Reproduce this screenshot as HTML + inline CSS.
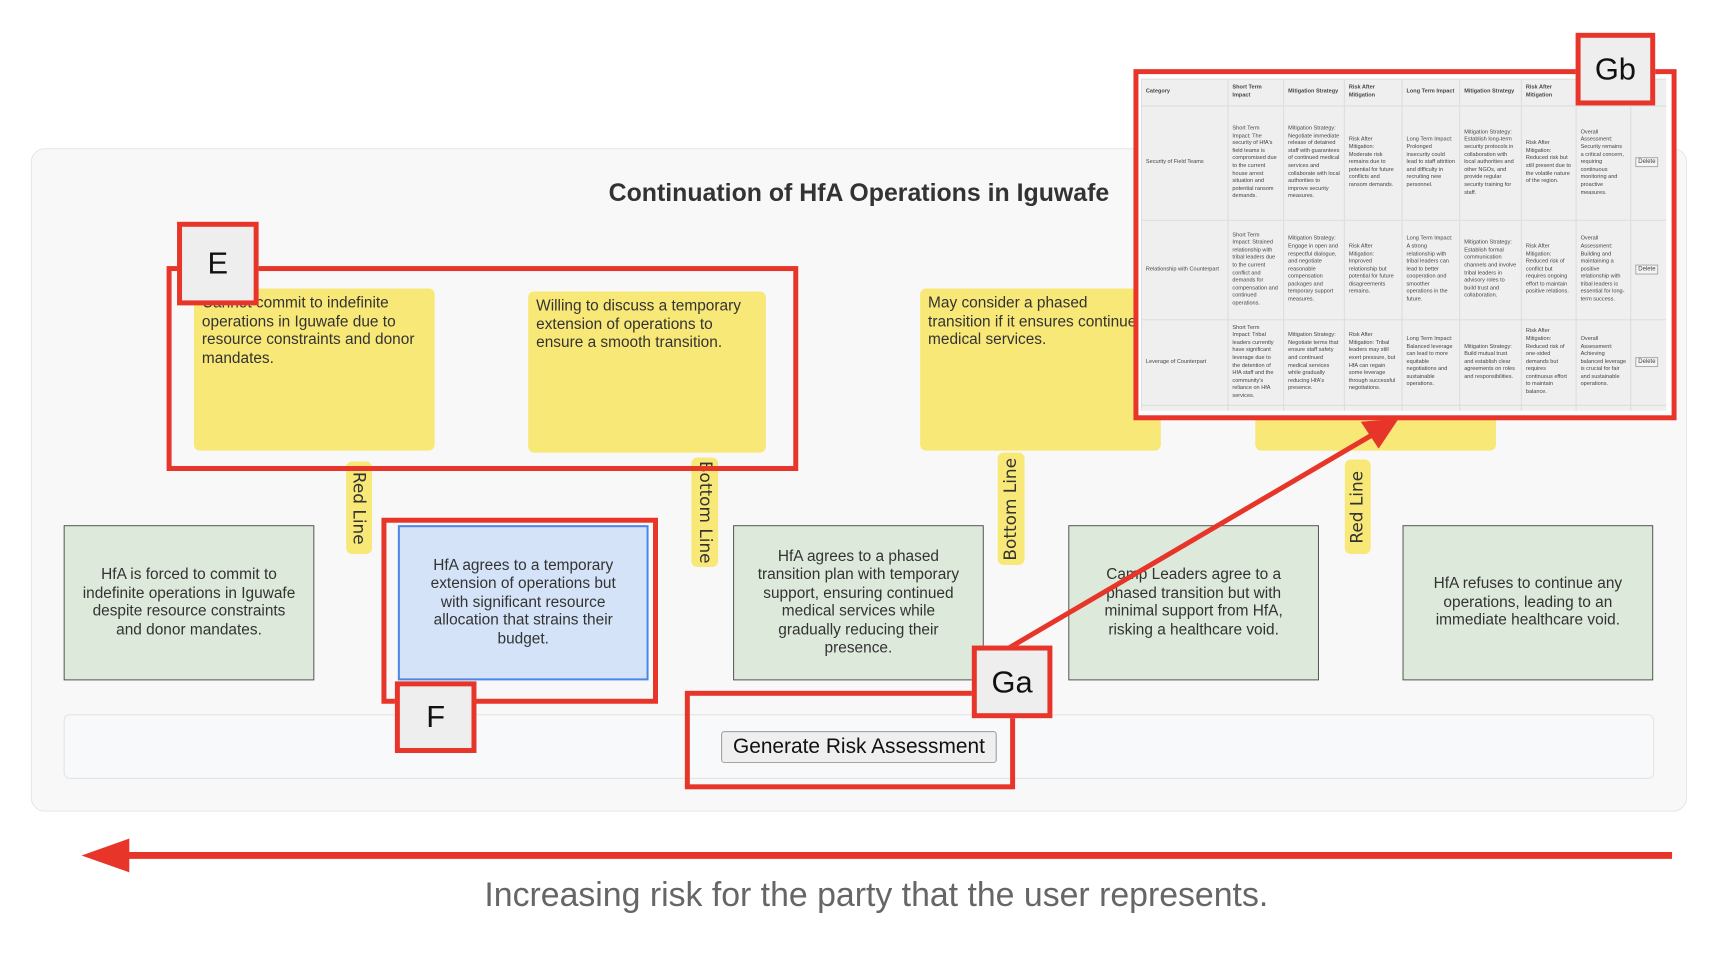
<!DOCTYPE html>
<html><head><meta charset="utf-8"><style>
*{box-sizing:border-box;margin:0;padding:0}
body{width:1716px;height:954px;background:#fff;position:relative;overflow:hidden;font-family:"Liberation Sans",Arial,sans-serif;color:#333}
#w{position:absolute;left:0;top:0;width:1716px;height:954px;transform:scale(0.9947);transform-origin:0 0}
.a{position:absolute}
.panel{left:31px;top:149px;width:1665px;height:667px;background:#f8f8f8;border:1px solid #e6e6e6;border-radius:14px}
.title{left:31px;width:1665px;top:180px;text-align:center;font-weight:bold;font-size:25px;color:#333}
.y{background:#f8e877;border-radius:6px;font-size:15.5px;line-height:18.5px;padding:6px 8px;color:#333}
.tag{background:#f8e877;border-radius:6px;font-family:"DejaVu Sans",sans-serif;font-size:17px;color:#333;display:flex;align-items:center;justify-content:center}
.tag span{white-space:nowrap;display:block}
.g{background:#dde9da;border:1px solid #555;font-size:15.5px;line-height:18.5px;text-align:center;display:flex;align-items:center;justify-content:center;padding:8px 20px}
.bar{left:64px;top:718px;width:1599px;height:65px;background:#f8f9fa;border:1px solid #e2e2e2;border-radius:6px}
.btn{left:725px;top:735px;width:277px;height:32px;background:#efefef;border:1px solid #999;border-radius:3px;font-size:21px;text-align:center;line-height:30px;color:#111}
.cap{left:23px;width:1716px;top:881px;text-align:center;font-size:34px;color:#666}
.lab{background:#eee;border:5px solid #e8352a;font-size:31px;color:#111;display:flex;align-items:center;justify-content:center}
table{border-collapse:collapse;font-size:5.6px;line-height:7.6px;color:#444}
td,th{border:1px solid #dcdcdc;padding:2px 4px;vertical-align:middle;text-align:left}
th{font-weight:bold;height:27px}
.del{border:1px solid #aaa;background:#f4f4f4;padding:1px 2px;font-size:6px}
</style></head><body><div id="w">
<div class="a panel"></div>
<div class="a title">Continuation of HfA Operations in Iguwafe</div>

<div class="a y" style="left:195px;top:290px;width:242px;height:163px">Cannot commit to indefinite operations in Iguwafe due to resource constraints and donor mandates.</div>
<div class="a y" style="left:531px;top:293px;width:239px;height:162px">Willing to discuss a temporary extension of operations to ensure a smooth transition.</div>
<div class="a y" style="left:925px;top:290px;width:242px;height:163px">May consider a phased transition if it ensures continued medical services.</div>
<div class="a y" style="left:1262px;top:290px;width:242px;height:163px"></div>

<div class="a tag" style="left:348px;top:464px;width:26px;height:93px"><span style="transform:rotate(90deg)">Red Line</span></div>
<div class="a tag" style="left:695px;top:460px;width:27px;height:110px"><span style="transform:rotate(90deg)">Bottom Line</span></div>
<div class="a tag" style="left:1003px;top:455px;width:27px;height:113px"><span style="transform:rotate(-90deg)">Bottom Line</span></div>
<div class="a tag" style="left:1352px;top:462px;width:26px;height:95px"><span style="transform:rotate(-90deg)">Red Line</span></div>

<div class="a g" style="left:64px;top:528px;width:252px;height:156px;padding:8px 14px">HfA is forced to commit to indefinite operations in Iguwafe despite resource constraints and donor mandates.</div>
<div class="a g" style="left:400px;top:528px;width:252px;height:156px;background:#d4e3f8;border:2px solid #4a86e8">HfA agrees to a temporary extension of operations but with significant resource allocation that strains their budget.</div>
<div class="a g" style="left:737px;top:528px;width:252px;height:156px">HfA agrees to a phased transition plan with temporary support, ensuring continued medical services while gradually reducing their presence.</div>
<div class="a g" style="left:1074px;top:528px;width:252px;height:156px">Camp Leaders agree to a phased transition but with minimal support from HfA, risking a healthcare void.</div>
<div class="a g" style="left:1410px;top:528px;width:252px;height:156px">HfA refuses to continue any operations, leading to an immediate healthcare void.</div>

<div class="a bar"></div>
<div class="a btn">Generate Risk Assessment</div>
<div class="a cap">Increasing risk for the party that the user represents.</div>

<div class="a" style="left:1140px;top:70px;width:544px;height:350px;background:#fff"></div>
<div class="a" style="left:1147px;top:79px;width:528px;height:334px;overflow:hidden;background:#efefef">
<table style="width:528px;table-layout:fixed">
<colgroup><col style="width:87px"><col style="width:56px"><col style="width:61px"><col style="width:58px"><col style="width:58px"><col style="width:62px"><col style="width:55px"><col style="width:55px"><col style="width:36px"></colgroup>
<tr><th>Category</th><th>Short Term Impact</th><th>Mitigation Strategy</th><th>Risk After Mitigation</th><th>Long Term Impact</th><th>Mitigation Strategy</th><th>Risk After Mitigation</th><th></th><th></th></tr>
<tr style="height:115px"><td>Security of Field Teams</td><td>Short Term Impact: The security of HfA's field teams is compromised due to the current house arrest situation and potential ransom demands.</td><td>Mitigation Strategy: Negotiate immediate release of detained staff with guarantees of continued medical services and collaborate with local authorities to improve security measures.</td><td>Risk After Mitigation: Moderate risk remains due to potential for future conflicts and ransom demands.</td><td>Long Term Impact: Prolonged insecurity could lead to staff attrition and difficulty in recruiting new personnel.</td><td>Mitigation Strategy: Establish long-term security protocols in collaboration with local authorities and other NGOs, and provide regular security training for staff.</td><td>Risk After Mitigation: Reduced risk but still present due to the volatile nature of the region.</td><td>Overall Assessment: Security remains a critical concern, requiring continuous monitoring and proactive measures.</td><td><span class="del">Delete</span></td></tr>
<tr style="height:100px"><td>Relationship with Counterpart</td><td>Short Term Impact: Strained relationship with tribal leaders due to the current conflict and demands for compensation and continued operations.</td><td>Mitigation Strategy: Engage in open and respectful dialogue, and negotiate reasonable compensation packages and temporary support measures.</td><td>Risk After Mitigation: Improved relationship but potential for future disagreements remains.</td><td>Long Term Impact: A strong relationship with tribal leaders can lead to better cooperation and smoother operations in the future.</td><td>Mitigation Strategy: Establish formal communication channels and involve tribal leaders in advisory roles to build trust and collaboration.</td><td>Risk After Mitigation: Reduced risk of conflict but requires ongoing effort to maintain positive relations.</td><td>Overall Assessment: Building and maintaining a positive relationship with tribal leaders is essential for long-term success.</td><td><span class="del">Delete</span></td></tr>
<tr style="height:86px"><td>Leverage of Counterpart</td><td>Short Term Impact: Tribal leaders currently have significant leverage due to the detention of HfA staff and the community's reliance on HfA services.</td><td>Mitigation Strategy: Negotiate terms that ensure staff safety and continued medical services while gradually reducing HfA's presence.</td><td>Risk After Mitigation: Tribal leaders may still exert pressure, but HfA can regain some leverage through successful negotiations.</td><td>Long Term Impact: Balanced leverage can lead to more equitable negotiations and sustainable operations.</td><td>Mitigation Strategy: Build mutual trust and establish clear agreements on roles and responsibilities.</td><td>Risk After Mitigation: Reduced risk of one-sided demands but requires continuous effort to maintain balance.</td><td>Overall Assessment: Achieving balanced leverage is crucial for fair and sustainable operations.</td><td><span class="del">Delete</span></td></tr>
<tr style="height:20px"><td></td><td></td><td></td><td></td><td></td><td></td><td></td><td>Overall</td><td></td></tr>
</table></div>

<svg class="a" style="left:0;top:0" width="1716" height="954">
<g fill="none" stroke="#e8352a" stroke-width="5">
<rect x="170" y="270" width="630" height="201"/>
<rect x="386" y="523" width="273" height="182"/>
<rect x="691" y="697" width="327" height="94"/>
<rect x="1142" y="72" width="541" height="348"/>
<line x1="1015" y1="651" x2="1385" y2="434"/>
</g>
<polygon points="1406,421 1368,424 1386,451" fill="#e8352a"/>
<line x1="120" y1="860" x2="1681" y2="860" stroke="#e8352a" stroke-width="7"/>
<polygon points="82,860 130,843 130,877" fill="#e8352a"/>
</svg>
<div class="a lab" style="left:178px;top:223px;width:82px;height:84px">E</div>
<div class="a lab" style="left:397px;top:685px;width:82px;height:72px">F</div>
<div class="a lab" style="left:977px;top:649px;width:81px;height:73px">Ga</div>
<div class="a lab" style="left:1584px;top:33px;width:80px;height:73px">Gb</div>
</div></body></html>
